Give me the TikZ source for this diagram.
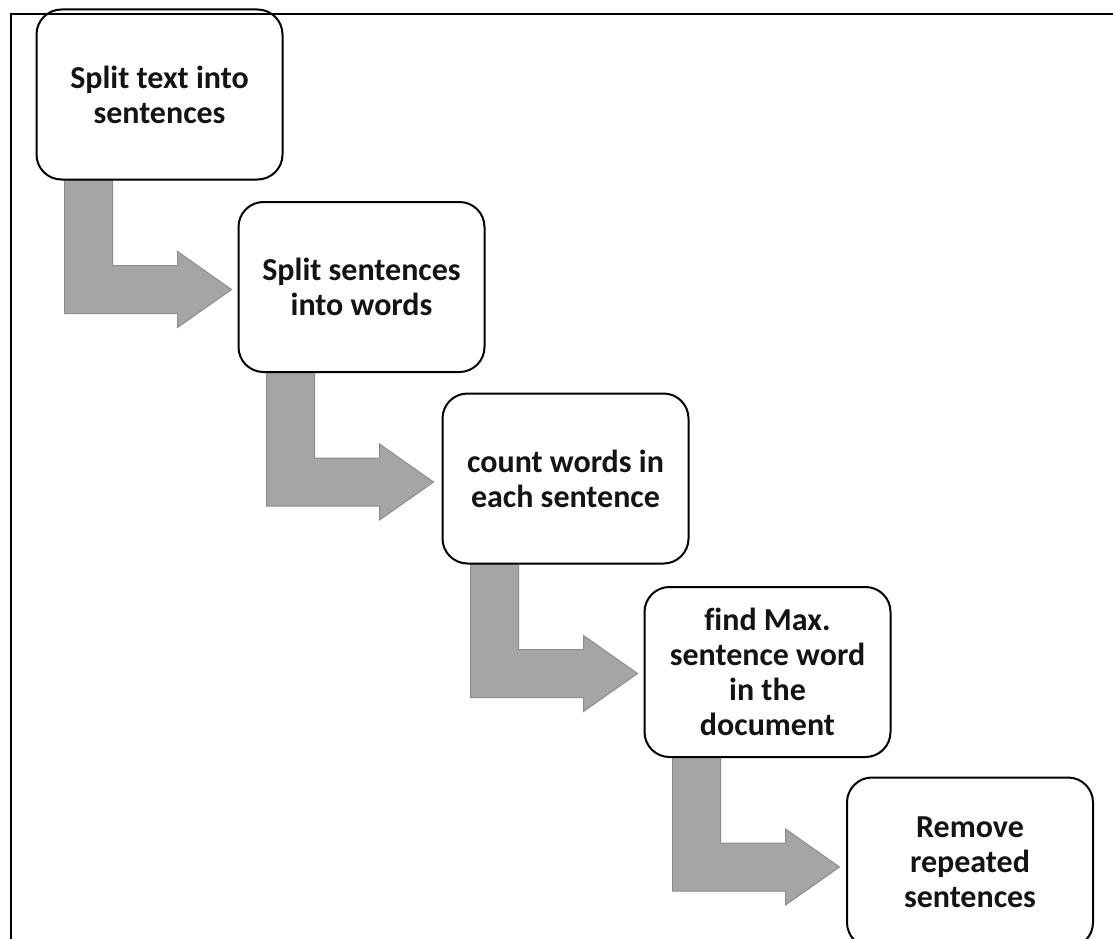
\documentclass[tikz,border=0pt]{standalone}
\usepackage{fontspec}
\setmainfont{Carlito}[Ligatures=NoCommon]
\usetikzlibrary{calc,backgrounds}
\definecolor{arrowfill}{HTML}{A5A5A5}
\definecolor{arrowedge}{HTML}{8C8C8C}
\tikzset{
  stepbox/.style={draw=black, line width=2pt, fill=white, rounded corners=25pt,
    minimum width=246pt, minimum height=170pt, inner sep=0pt, align=center,
    font=\fontsize{32}{35}\selectfont\bfseries, text=black!92},
  bentarrow/.style={fill=arrowfill, draw=arrowedge, line width=1pt, line join=miter},
  frameline/.style={draw=black, line width=2pt}
}
% L-shaped block arrow leaving the bottom of box #1
\newcommand{\bentarrowfrom}[1]{%
  \draw[bentarrow]
    ($(#1.south west)+(29,-1)$) -- ($(#1.south west)+(77,-1)$)
    -- ($(#1.south west)+(77,85)$) -- ($(#1.south west)+(142,85)$)
    -- ($(#1.south west)+(142,71)$) -- ($(#1.south west)+(196,109)$)
    -- ($(#1.south west)+(142,147)$) -- ($(#1.south west)+(142,133)$)
    -- ($(#1.south west)+(29,133)$) -- cycle;}
\begin{document}
\begin{tikzpicture}[x=1pt, y=-1pt]
  \useasboundingbox (0,0) rectangle (1113,939);

  \node[stepbox] (s1) at (159.5,94.5) {Split text into\\sentences};
  \node[stepbox] (s2) at (361.5,287) {Split sentences\\into words};
  \node[stepbox] (s3) at (565.5,478.5) {count words in\\each sentence};
  \node[stepbox] (s4) at (767.5,672) {find Max.\\sentence word\\in the\\document};
  \node[stepbox] (s5) at (970,862.5) {Remove\\repeated\\sentences};

  \begin{scope}[on background layer]
    \fill[white] (0,0) rectangle (1113,939);
    \bentarrowfrom{s1}
    \bentarrowfrom{s2}
    \bentarrowfrom{s3}
    \bentarrowfrom{s4}
  \end{scope}

  % page frame: top and left rules only
  \coordinate (frameTop) at (1113,14);
  \coordinate (frameCorner) at (10.5,14);
  \coordinate (frameBottom) at (10.5,939);
  \draw[frameline] (frameTop) -- (frameCorner) -- (frameBottom);
\end{tikzpicture}
\end{document}
